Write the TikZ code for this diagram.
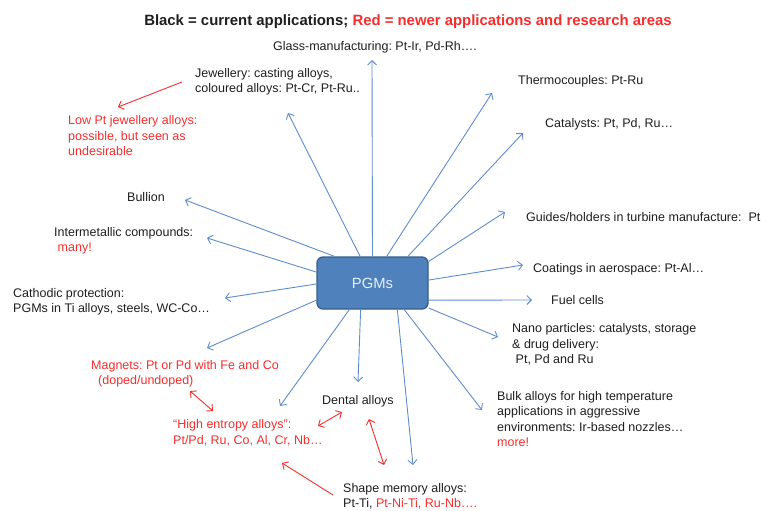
\documentclass[tikz,border=0pt]{standalone}
\usepackage{fontspec}
\setmainfont{Liberation Sans}
\usetikzlibrary{arrows.meta}
\frenchspacing
\definecolor{txt}{RGB}{30,30,30}
\definecolor{redt}{RGB}{245,45,45}
\definecolor{arrb}{RGB}{95,140,205}
\definecolor{boxf}{RGB}{79,129,189}
\definecolor{boxd}{RGB}{56,93,138}
\definecolor{boxt}{RGB}{232,239,248}
\begin{document}
\begin{tikzpicture}[x=1pt,y=-1pt,
  lbl/.style={anchor=base west, inner sep=0pt, align=left, text=txt, font=\fontsize{12.5}{15.5}\selectfont},
  blu/.style={draw=arrb, line width=0.9pt, -{Straight Barb[length=4.5pt,width=9pt]}},
  redar/.style={draw=redt, line width=0.9pt, -{Straight Barb[length=4.5pt,width=9pt]}},
  redboth/.style={draw=redt, line width=0.9pt, {Straight Barb[length=4.5pt,width=9pt]}-{Straight Barb[length=4.5pt,width=9pt]}}]
\useasboundingbox (0,0) rectangle (766,511);
% title
\node[lbl, font=\bfseries\fontsize{14.9}{17}\selectfont, anchor=base] (title) at (408,25.5) {Black = current applications; \textcolor{redt}{Red = newer applications and research areas}};
% labels (base = baseline of last line)
\node[lbl] (glass) at (273,50.5) {Glass-manufacturing: Pt-Ir, Pd-Rh….};
\node[lbl] (jew) at (195,92.5) {Jewellery: casting alloys,\\coloured alloys: Pt-Cr, Pt-Ru..};
\node[lbl, text=redt] (lowpt) at (68,155.5) {Low Pt jewellery alloys:\\possible, but seen as\\undesirable};
\node[lbl] (thermo) at (518,84.5) {Thermocouples: Pt-Ru};
\node[lbl] (cat) at (545,127.5) {Catalysts: Pt, Pd, Ru…};
\node[lbl] (bullion) at (127,201.5) {Bullion};
\node[lbl] (inter) at (54,251.5) {Intermetallic compounds:\\\hspace*{3.5pt}\textcolor{redt}{many!}};
\node[lbl] (guides) at (526,221.5) {Guides/holders in turbine manufacture:~~Pt};
\node[lbl] (coat) at (533,272.5) {Coatings in aerospace: Pt-Al…};
\node[lbl] (fuel) at (551,304.5) {Fuel cells};
\node[lbl] (cath) at (13,312.5) {Cathodic protection:\\PGMs in Ti alloys, steels, WC-Co…};
\node[lbl] (nano) at (512,363.5) {Nano particles: catalysts, storage\\\& drug delivery:\\\hspace*{3.5pt}Pt, Pd and Ru};
\node[lbl, text=redt] (magnets) at (91,384.5) {Magnets: Pt or Pd with Fe and Co\\\hspace*{7pt}(doped/undoped)};
\node[lbl] (dental) at (322,404.5) {Dental alloys};
\node[lbl, text=redt] (hea) at (173,444) {“High entropy alloys”:\\Pt/Pd, Ru, Co, Al, Cr, Nb…};
\node[lbl] (bulk) at (497,446.5) {Bulk alloys for high temperature\\applications in aggressive\\environments: Ir-based nozzles…\\\textcolor{redt}{more!}};
\node[lbl] (shape) at (343,507.5) {Shape memory alloys:\\Pt-Ti, \textcolor{redt}{Pt-Ni-Ti, Ru-Nb….}};
% central box
\node[draw=boxd, fill=boxf, line width=1.3pt, rounded corners=6pt, minimum width=111pt, minimum height=52pt, text=boxt, font=\fontsize{14.8}{17}\selectfont] (pgm) at (372.5,283) {PGMs};
% arrow tips
\coordinate (t-glass) at (372,60);
\coordinate (t-jew) at (288,113);
\coordinate (t-thermo) at (492,93);
\coordinate (t-cat) at (523,133);
\coordinate (t-bullion) at (185,200);
\coordinate (t-inter) at (207,238);
\coordinate (t-guides) at (505,212);
\coordinate (t-coat) at (523,265);
\coordinate (t-fuel) at (532,300);
\coordinate (t-cath) at (225,298);
\coordinate (t-nano) at (498,337);
\coordinate (t-magnets) at (207,348);
\coordinate (t-hea) at (280,406);
\coordinate (t-dental) at (358,382);
\coordinate (t-shape) at (413,465);
\coordinate (t-bulk) at (482,410);
% blue arrows
\draw[blu] (pgm.north) -- (t-glass);
\draw[blu] (pgm.115.7) -- (t-jew);
\draw[blu] (pgm.62.6) -- (t-thermo);
\draw[blu] (pgm.37) -- (t-cat);
\draw[blu] (pgm.145.3) -- (t-bullion);
\draw[blu] (pgm.169.8) -- (t-inter);
\draw[blu] (pgm.21.6) -- (t-guides);
\draw[blu] (pgm.3.1) -- (t-coat);
\draw[blu] (pgm.-17) -- (t-fuel);
\draw[blu] (pgm.181) -- (t-cath);
\draw[blu] (pgm.-24.2) -- (t-nano);
\draw[blu] (pgm.197) -- (t-magnets);
\draw[blu] (pgm.229.6) -- (t-hea);
\draw[blu] (pgm.246) -- (t-dental);
\draw[blu] (pgm.313.3) -- (t-shape);
\draw[blu] (pgm.320.5) -- (t-bulk);
% red arrows
\coordinate (r1a) at (182,82);   \coordinate (r1b) at (118,107);
\coordinate (r2a) at (190,391);  \coordinate (r2b) at (213,411);
\coordinate (r3a) at (318,426);  \coordinate (r3b) at (342,412);
\coordinate (r4a) at (369,419);  \coordinate (r4b) at (384,465);
\coordinate (r5a) at (333,495);  \coordinate (r5b) at (282,463);
\draw[redar] (r1a) -- (r1b);
\draw[redboth] (r2a) -- (r2b);
\draw[redboth] (r3a) -- (r3b);
\draw[redboth] (r4a) -- (r4b);
\draw[redar] (r5a) -- (r5b);
\end{tikzpicture}
\end{document}
